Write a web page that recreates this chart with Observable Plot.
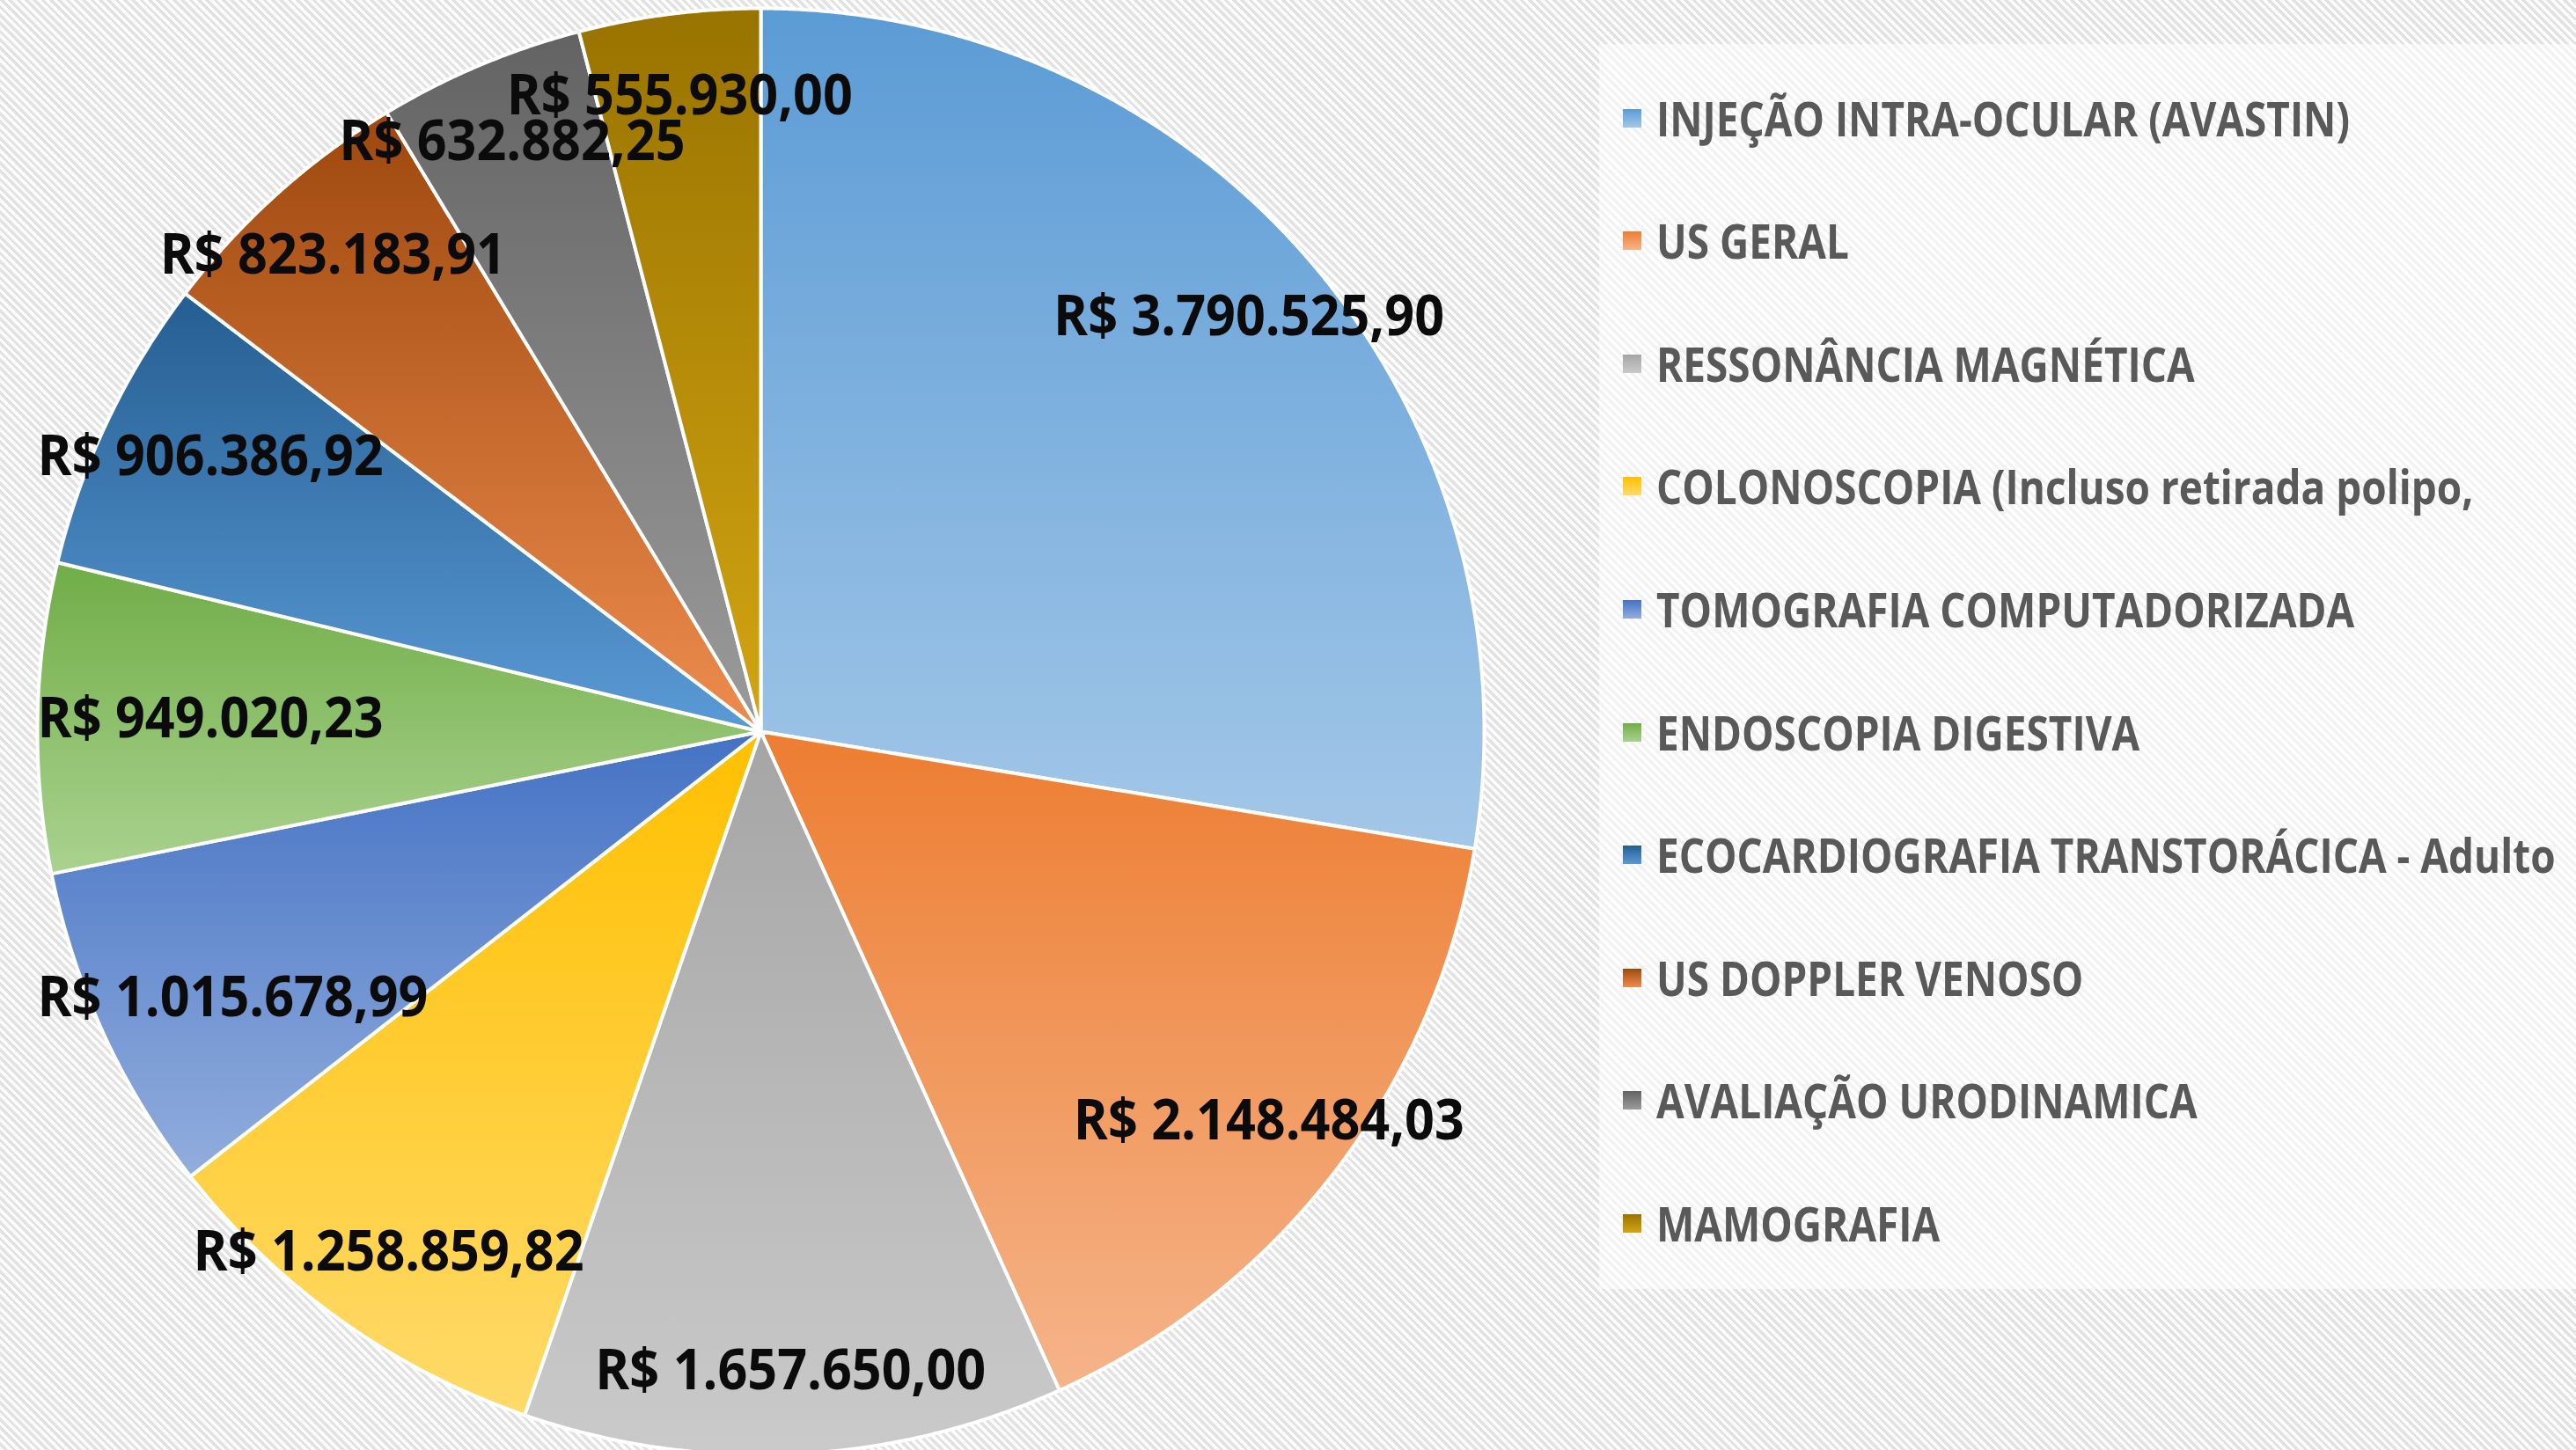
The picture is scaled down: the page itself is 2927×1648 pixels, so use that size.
<!DOCTYPE html>
<html>
<head>
<meta charset="utf-8">
<script src="https://cdn.jsdelivr.net/npm/d3@7"></script>
<script src="https://cdn.jsdelivr.net/npm/@observablehq/plot@0.6"></script>
<style>
  html, body { margin: 0; padding: 0; }
  body {
    width: 2927px; height: 1648px; overflow: hidden; position: relative;
    background: repeating-linear-gradient(45deg, #ffffff 0px, #ffffff 3.3px, #e2e2e2 3.3px, #e2e2e2 6.6px);
  }
  #chart { position: absolute; left: 0; top: 0; }
  #legend {
    position: absolute; left: 1817px; top: 50px; width: 1110px; height: 1415px;
    background: rgba(255,255,255,0.55);
  }
  .item { position: absolute; left: 0; height: 80px; display: flex; align-items: center; }
  .sw { width: 21px; height: 21px; margin-left: 27px; margin-right: 17px; flex: none; }
  .lb { display: inline-block; font-weight: bold; font-size: 53px; color: #595959; white-space: nowrap;
        font-family: "Open Sans", "Noto Sans", sans-serif; transform-origin: 0 50%; }
</style>
</head>
<body>
<div id="chart"></div>
<div id="legend"></div>
<script>
// ---- data ----
const categories = [
  "INJEÇÃO INTRA-OCULAR (AVASTIN)",
  "US GERAL",
  "RESSONÂNCIA MAGNÉTICA",
  "COLONOSCOPIA (Incluso retirada polipo,",
  "TOMOGRAFIA COMPUTADORIZADA",
  "ENDOSCOPIA DIGESTIVA",
  "ECOCARDIOGRAFIA TRANSTORÁCICA - Adulto",
  "US DOPPLER VENOSO",
  "AVALIAÇÃO URODINAMICA",
  "MAMOGRAFIA"
];
const values = [
  3790525.90, 2148484.03, 1657650.00, 1258859.82, 1015678.99,
  949020.23, 906386.92, 823183.91, 632882.25, 555930.00
];
const topColors = ["#5B9BD5", "#ED7D31", "#A5A5A5", "#FFC000", "#4472C4",
                   "#70AD47", "#255E91", "#9E480E", "#636363", "#997300"];
const bottomColors = ["#A3C7E8", "#F5B48A", "#CACACA", "#FFDA6A", "#92ADDD",
                      "#AAD28F", "#5A9AD6", "#EE8C4E", "#9B9B9B", "#D2A512"];

// ---- layout constants ----
const W = 1817, H = 1648, CX = 864, CY = 831, R = 822;
const FONT = '"Open Sans", "Noto Sans", sans-serif';
const LABEL_SIZE = 64;
const LABEL_REF_WIDTH = 444;   // width of widest label in reference
const LEGEND_REF_WIDTH = 788;  // width of first legend entry in reference

const fmt = d3.formatLocale({decimal: ",", thousands: ".", grouping: [3], currency: ["R$ ", ""]}).format("$,.2f");

const arcs = d3.pie().sort(null).value(d => d)(values);

// slice polygons (data units: radius 1)
const slices = arcs.map((a) => {
  const pts = [{x: 0, y: 0}];
  const n = Math.max(8, Math.ceil((a.endAngle - a.startAngle) / 0.004));
  for (let k = 0; k <= n; k++) {
    const t = a.startAngle + (a.endAngle - a.startAngle) * k / n;
    pts.push({x: Math.sin(t), y: Math.cos(t)});
  }
  return pts;
});

// labels (condensed to mimic Calibri)
const ctx = document.createElement("canvas").getContext("2d");
ctx.font = `bold ${LABEL_SIZE}px ${FONT}`;
const squeeze = LABEL_REF_WIDTH / ctx.measureText(fmt(values[0])).width;
const labels = arcs.map((a, i) => {
  const mid = (a.startAngle + a.endAngle) / 2;
  const text = fmt(values[i]);
  const w = ctx.measureText(text).width * squeeze;
  const hw = w / 2 / R;
  let x = 0.885 * Math.sin(mid), y = 0.885 * Math.cos(mid);
  if (x + hw > 1) x = 1 - hw;
  if (x - hw < -1) x = -1 + hw;
  return {x, y, text, w};
});

const marks = slices.map((pts, i) =>
  Plot.line(pts, {x: "x", y: "y", curve: "linear-closed", fill: `url(#grad${i})`,
                  stroke: "white", strokeWidth: 4, strokeLinejoin: "round"})
);
marks.push(Plot.text(labels, {x: "x", y: "y", text: "text", fontSize: LABEL_SIZE,
  fontWeight: "bold", fontFamily: FONT, fill: "#0b0b0b"}));

const svg = Plot.plot({
  width: W, height: H, margin: 0,
  x: {domain: [-CX / R, (W - CX) / R], axis: null},
  y: {domain: [-(H - CY) / R, CY / R], axis: null},
  style: {background: "transparent", overflow: "visible"},
  marks
});

const defs = d3.select(svg).insert("defs", ":first-child");
topColors.forEach((c, i) => {
  const g = defs.append("linearGradient").attr("id", `grad${i}`)
    .attr("x1", 0).attr("y1", 0).attr("x2", 0).attr("y2", 1);
  g.append("stop").attr("offset", "0%").attr("stop-color", c);
  g.append("stop").attr("offset", "100%").attr("stop-color", bottomColors[i]);
});
document.getElementById("chart").appendChild(svg);

// condense label glyphs to their target widths
const textEls = svg.querySelectorAll("g[aria-label='text'] text");
textEls.forEach((el, i) => {
  el.setAttribute("textLength", labels[i].w.toFixed(1));
  el.setAttribute("lengthAdjust", "spacingAndGlyphs");
});

// legend
const legend = document.getElementById("legend");
const lbs = [];
categories.forEach((name, i) => {
  const item = document.createElement("div");
  item.className = "item";
  item.style.top = (84 + i * 139.6 - 40) + "px";
  const sw = document.createElement("div");
  sw.className = "sw";
  sw.style.background = `linear-gradient(to bottom, ${topColors[i]}, ${bottomColors[i]})`;
  const lb = document.createElement("span");
  lb.className = "lb";
  lb.textContent = name;
  item.appendChild(sw); item.appendChild(lb);
  legend.appendChild(item);
  lbs.push(lb);
});
const lsq = LEGEND_REF_WIDTH / lbs[0].getBoundingClientRect().width;
lbs.forEach(lb => { lb.style.transform = `scaleX(${lsq})`; });
</script>
</body>
</html>
